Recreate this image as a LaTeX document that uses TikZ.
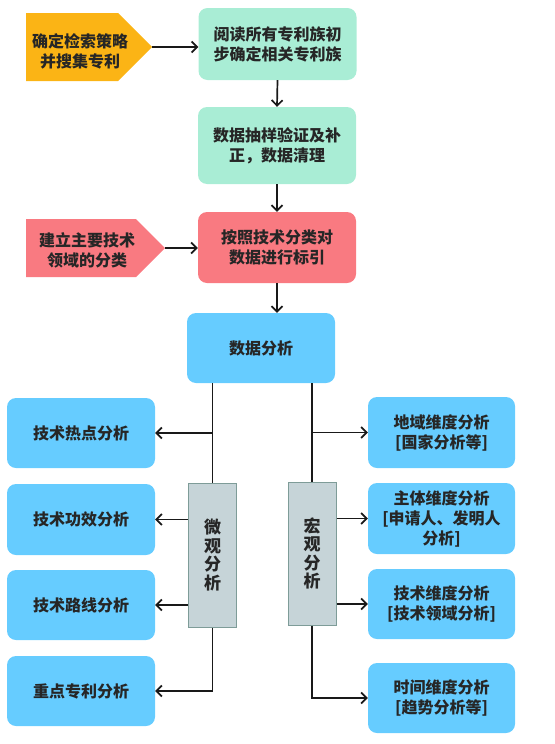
\documentclass[tikz,border=0pt]{standalone}
\usepackage{fontspec}
\setmainfont{Noto Sans CJK SC}
\usetikzlibrary{shapes.symbols,arrows.meta}

\definecolor{ambar}{HTML}{FBB415}
\definecolor{mint}{HTML}{A9EDD5}
\definecolor{rose}{HTML}{F97A81}
\definecolor{sky}{HTML}{66CCFF}
\definecolor{slate}{HTML}{C6D4D8}
\definecolor{slateline}{HTML}{7E9C98}

\begin{document}
\begin{tikzpicture}[x=1pt, y=-1pt,
        font=\fontsize{16}{20}\selectfont\bfseries, text=black!85,
        mintbox/.style={rectangle, rounded corners=9pt, fill=mint, align=center, minimum width=158pt, minimum height=72pt},
        rosebox/.style={rectangle, rounded corners=9pt, fill=rose, align=center, minimum width=158pt, minimum height=71pt},
        skybox/.style={rectangle, rounded corners=9pt, fill=sky, align=center, minimum width=148pt, minimum height=70pt},
        flag/.style={signal, signal to=east, signal pointer angle=90, inner sep=0pt},
        flagtext/.style={align=center, inner sep=0pt},
        pillar/.style={rectangle, draw=slateline, line width=1pt, fill=slate, align=center, minimum width=48pt, minimum height=143pt, font=\fontsize{17}{18.5}\selectfont\bfseries},
        link/.style={line width=1.7pt, black!90},
        >={Straight Barb[length=5.5pt,width=11pt]}
    ]
    \useasboundingbox (0,0) rectangle (554,744);

    % Top - retrieval and cleaning
    \node[flag, fill=ambar, minimum width=126pt, minimum height=68pt,
        label={[flagtext, xshift=8pt, yshift=-4pt]center:确定检索策略\\并搜集专利}] (search) at (72,47) {};
    \node[mintbox] (read) at (277.5,44) {阅读所有专利族初\\步确定相关专利族};
    \node[mintbox, minimum height=77pt] (clean) at (277,145.5) {数据抽样验证及补\\正，数据清理};
    \node[rosebox] (index) at (277,247.5) {按照技术分类对\\数据进行标引};
    \node[flag, fill=rose, minimum width=139pt, minimum height=58pt,
        label={[flagtext, xshift=6pt, yshift=-2pt]center:建立主要技术\\领域的分类}] (classify) at (81,248) {};
    \node[skybox] (analysis) at (261,348) {数据分析};

    \draw[->, link] (search.east) -- (search.east -| read.west);
    \draw[->, link] (read.south) -- (clean.north);
    \draw[->, link] (clean.south) -- (index.north);
    \draw[->, link] (classify.east) -- (classify.east -| index.west);
    \draw[->, link] (index.south) -- (index.south |- analysis.north);

    % Micro analysis - left
    \node[pillar, minimum height=144pt] (micro) at (212.5,555) {微\\观\\分\\析};
    \node[skybox] (hot) at (81,433) {技术热点分析};
    \node[skybox, minimum height=71pt] (effect) at (81,519.5) {技术功效分析};
    \node[skybox] (route) at (81,605) {技术路线分析};
    \node[skybox] (key) at (81,691) {重点专利分析};

    \draw[link] (micro.north |- analysis.south) -- (micro.north);
    \draw[->, link] (micro.north |- hot.east) -- (hot.east);
    \draw[->, link] (micro.west |- effect.east) -- (effect.east);
    \draw[->, link] (micro.west |- route.east) -- (route.east);
    \draw[->, link] (micro.south) |- (key.east);

    % Macro analysis - right
    \node[pillar] (macro) at (312,553.5) {宏\\观\\分\\析};
    \node[skybox, minimum width=147pt, minimum height=71pt] (region) at (441.5,432.5) {地域维度分析\\{[}国家分析等{]}};
    \node[skybox, minimum width=147pt, minimum height=71pt] (subject) at (441.5,518.5) {主体维度分析\\{[}申请人、发明人\\分析{]}};
    \node[skybox, minimum width=147pt] (tech) at (441.5,604) {技术维度分析\\{[}技术领域分析{]}};
    \node[skybox, minimum width=147pt] (time) at (441.5,698) {时间维度分析\\{[}趋势分析等{]}};

    \draw[link] (macro.north |- analysis.south) -- (macro.north);
    \draw[->, link] (macro.north |- region.west) -- (region.west);
    \draw[->, link] (macro.east |- subject.west) -- (subject.west);
    \draw[->, link] (macro.east |- tech.west) -- (tech.west);
    \draw[->, link] (macro.south) |- (time.west);
\end{tikzpicture}
\end{document}
